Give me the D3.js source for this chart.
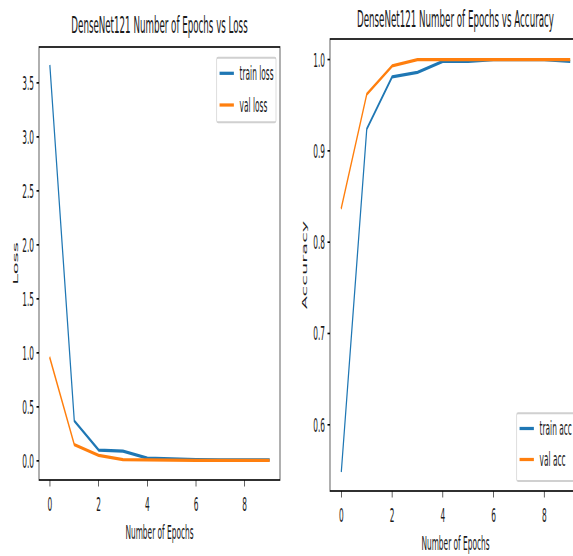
<!DOCTYPE html>
<html>
<head>
<meta charset="utf-8">
<script src="https://cdn.jsdelivr.net/npm/d3@7"></script>
<style>
  html, body { margin: 0; padding: 0; background: #fff; overflow: hidden; }
  text { font-family: "DejaVu Sans", sans-serif; fill: #1a1a1a; }
</style>
</head>
<body>
<svg id="chart" width="573" height="556"></svg>
<script>
// Training history of DenseNet121 (10 epochs)
const epochs    = [0, 1, 2, 3, 4, 5, 6, 7, 8, 9];
const trainLoss = [3.65, 0.37, 0.10, 0.09, 0.025, 0.018, 0.012, 0.01, 0.008, 0.008];
const valLoss   = [0.95, 0.15, 0.05, 0.012, 0.008, 0.006, 0.005, 0.005, 0.005, 0.005];
const trainAcc  = [0.55, 0.924, 0.981, 0.986, 0.998, 0.998, 1.0, 1.0, 1.0, 0.998];
const valAcc    = [0.838, 0.962, 0.993, 1.0, 1.0, 1.0, 1.0, 1.0, 1.0, 1.0];

const epochTicks = [0, 2, 4, 6, 8];
const lossTicks  = [0.0, 0.5, 1.0, 1.5, 2.0, 2.5, 3.0, 3.5];
const accTicks   = [0.6, 0.7, 0.8, 0.9, 1.0];

const lossTitle = "DenseNet121 Number of Epochs vs Loss";
const accTitle  = "DenseNet121 Number of Epochs vs Accuracy";
const xLabel    = "Number of Epochs";
const lossLabel = "Loss";
const accLabel  = "Accuracy";
const lossNames = ["train loss", "val loss"];
const accNames  = ["train acc", "val acc"];

const C_BLUE = "#1f77b4", C_ORANGE = "#ff7f0e";

// The figure is laid out in a stretched frame: drawn at native sizes,
// then squeezed horizontally and stretched vertically.
const SX = 0.515, SY = 1.35;
const vx = px => px / SX, vy = px => px / SY;

const FONT = 14.4, TITLE_FONT = 16.9, LW = 2.4, SPINE = 1.2, TICK = 4.86;

const svg = d3.select("#chart");
const root = svg.append("g").attr("transform", `scale(${SX},${SY})`);

function paddedDomain(vals) {
  const lo = d3.min(vals), hi = d3.max(vals), m = (hi - lo) * 0.05;
  return [lo - m, hi + m];
}

function panel(cfg) {
  const g = root.append("g");
  const x = d3.scaleLinear().domain(paddedDomain(epochs)).range([vx(cfg.left), vx(cfg.right)]);
  const y = d3.scaleLinear().domain(paddedDomain(cfg.series.flat())).range([vy(cfg.bottom), vy(cfg.top)]);
  const L = vx(cfg.left), R = vx(cfg.right), T = vy(cfg.top), B = vy(cfg.bottom);

  // series lines
  const line = d3.line().x((d, i) => x(epochs[i])).y(d => y(d));
  cfg.series.forEach((s, i) => {
    g.append("path").datum(s)
      .attr("d", line)
      .attr("fill", "none")
      .attr("stroke", [C_BLUE, C_ORANGE][i])
      .attr("stroke-width", LW)
      .attr("stroke-linejoin", "round")
      .attr("stroke-linecap", "square");
  });

  // x axis ticks
  const xa = g.append("g");
  epochTicks.forEach(t => {
    xa.append("line").attr("x1", x(t)).attr("x2", x(t))
      .attr("y1", B).attr("y2", B + TICK)
      .attr("stroke", "#000").attr("stroke-width", SPINE);
    xa.append("text").attr("x", x(t)).attr("y", vy(cfg.bottom + 31.5))
      .attr("text-anchor", "middle").attr("font-size", FONT).text(d3.format("d")(t));
  });
  // y axis ticks
  const ya = g.append("g");
  cfg.yTicks.forEach(t => {
    ya.append("line").attr("x1", L - TICK).attr("x2", L)
      .attr("y1", y(t)).attr("y2", y(t))
      .attr("stroke", "#000").attr("stroke-width", SPINE);
    ya.append("text").attr("x", L - TICK - 4.86).attr("y", y(t))
      .attr("dy", "0.36em")
      .attr("text-anchor", "end").attr("font-size", FONT).text(d3.format(".1f")(t));
  });

  // spines
  g.append("rect").attr("x", L).attr("y", T).attr("width", R - L).attr("height", B - T)
    .attr("fill", "none").attr("stroke", "#000").attr("stroke-width", SPINE);

  // title and axis labels
  g.append("text").attr("x", (L + R) / 2).attr("y", vy(cfg.titleY))
    .attr("text-anchor", "middle").attr("font-size", TITLE_FONT).text(cfg.title);
  g.append("text").attr("x", (L + R) / 2).attr("y", vy(cfg.bottom + 59.5))
    .attr("text-anchor", "middle").attr("font-size", FONT).text(xLabel);
  g.append("text")
    .attr("transform", `translate(${vx(cfg.ylabelX)},${(T + B) / 2}) rotate(-90)`)
    .attr("text-anchor", "middle").attr("font-size", FONT).text(cfg.ylabel);

  // legend
  const lg = g.append("g");
  const lx = vx(cfg.legend.x), lt = vy(cfg.legend.top), lb = vy(cfg.legend.bottom);
  lg.append("rect").attr("x", lx).attr("y", lt)
    .attr("width", vx(cfg.legend.w)).attr("height", lb - lt)
    .attr("rx", 2.8).attr("ry", 2.8 * SX / SY)
    .attr("fill", "#fff").attr("fill-opacity", 0.8)
    .attr("stroke", "#d0d0d0").attr("stroke-width", 1.39);
  cfg.names.forEach((n, i) => {
    const ry = vy(cfg.legend.rows[i]);
    lg.append("line").attr("x1", lx + 5.56).attr("x2", lx + 5.56 + 27.8)
      .attr("y1", ry).attr("y2", ry)
      .attr("stroke", [C_BLUE, C_ORANGE][i]).attr("stroke-width", LW);
    lg.append("text").attr("x", lx + 5.56 + 27.8 + 11.1).attr("y", ry)
      .attr("dy", "0.36em").attr("font-size", FONT).text(n);
  });
}

panel({
  left: 39, right: 280, top: 47, bottom: 480,
  series: [trainLoss, valLoss], yTicks: lossTicks,
  title: lossTitle, titleY: 33, ylabel: lossLabel, ylabelX: 17.5,
  names: lossNames,
  legend: { x: 216.7, top: 57.7, bottom: 122.3, w: 59.3, rows: [73.3, 105] }
});

panel({
  left: 330, right: 581, top: 39, bottom: 491,
  series: [trainAcc, valAcc], yTicks: accTicks,
  title: accTitle, titleY: 27, ylabel: accLabel, ylabelX: 306.7,
  names: accNames,
  legend: { x: 516.7, top: 413.3, bottom: 481, w: 62, rows: [428.5, 459.5] }
});
</script>
</body>
</html>
